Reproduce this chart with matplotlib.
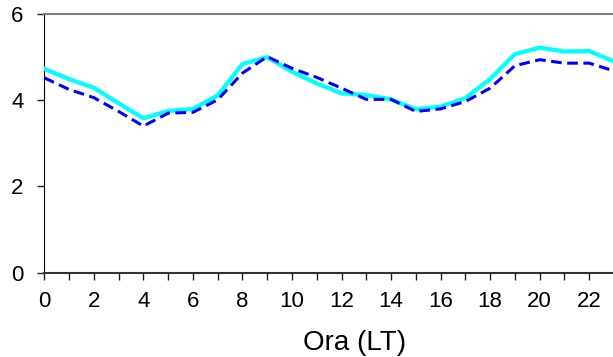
import matplotlib
matplotlib.use("Agg")
import matplotlib.pyplot as plt
from matplotlib.ticker import MultipleLocator

hours = list(range(24))
series_solid = [4.73, 4.49, 4.29, 3.93, 3.58, 3.75, 3.80, 4.11, 4.84, 5.00, 4.66, 4.39,
                4.16, 4.12, 4.02, 3.79, 3.85, 4.05, 4.49, 5.07, 5.22, 5.13, 5.14, 4.90]
series_dashed = [4.52, 4.25, 4.06, 3.74, 3.40, 3.70, 3.72, 4.01, 4.63, 5.01, 4.74, 4.53,
                 4.28, 4.02, 4.02, 3.74, 3.80, 3.97, 4.28, 4.80, 4.94, 4.86, 4.86, 4.68]
xticks = list(range(0, 24, 2))
yticks = [0, 2, 4, 6]
xlabel = "Ora (LT)"

plt.rcParams['font.family'] = ['Liberation Sans', 'DejaVu Sans']

W, H = 613, 357
fig = plt.figure(figsize=(W / 100, H / 100), dpi=100)
left, right = 44.3, 614
top, bottom = 14, 272.7
ax = fig.add_axes([left / W, 1 - bottom / H, (right - left) / W, (bottom - top) / H])

ax.plot(hours, series_solid, color='#00FFFF', lw=3.0, solid_joinstyle='miter', zorder=3)
ax.plot(hours, series_dashed, color='#0000FF', lw=2.2, linestyle=(0, (3.5, 1.8)), zorder=4)

ax.set_xlim(0, 23)
ax.set_ylim(0, 6)
ax.set_xticks(xticks)
ax.xaxis.set_minor_locator(MultipleLocator(1))
ax.set_yticks(yticks)

ax.tick_params(axis='both', which='both', direction='out', length=5, width=1, colors='#222222')
ax.tick_params(axis='x', labelsize=16, pad=8, labelcolor='black')
ax.tick_params(axis='y', labelsize=16, pad=10, labelcolor='black')

ax.spines['right'].set_visible(False)
ax.spines['top'].set_color('#808080')
ax.spines['top'].set_linewidth(1.5)
ax.spines['left'].set_color('black')
ax.spines['bottom'].set_color('#333333')
ax.spines['bottom'].set_linewidth(1.5)

fig.text(355 / W, 1 - 350 / H, xlabel, fontsize=20, ha='center', va='baseline')

fig.savefig('out.png', dpi=100)
